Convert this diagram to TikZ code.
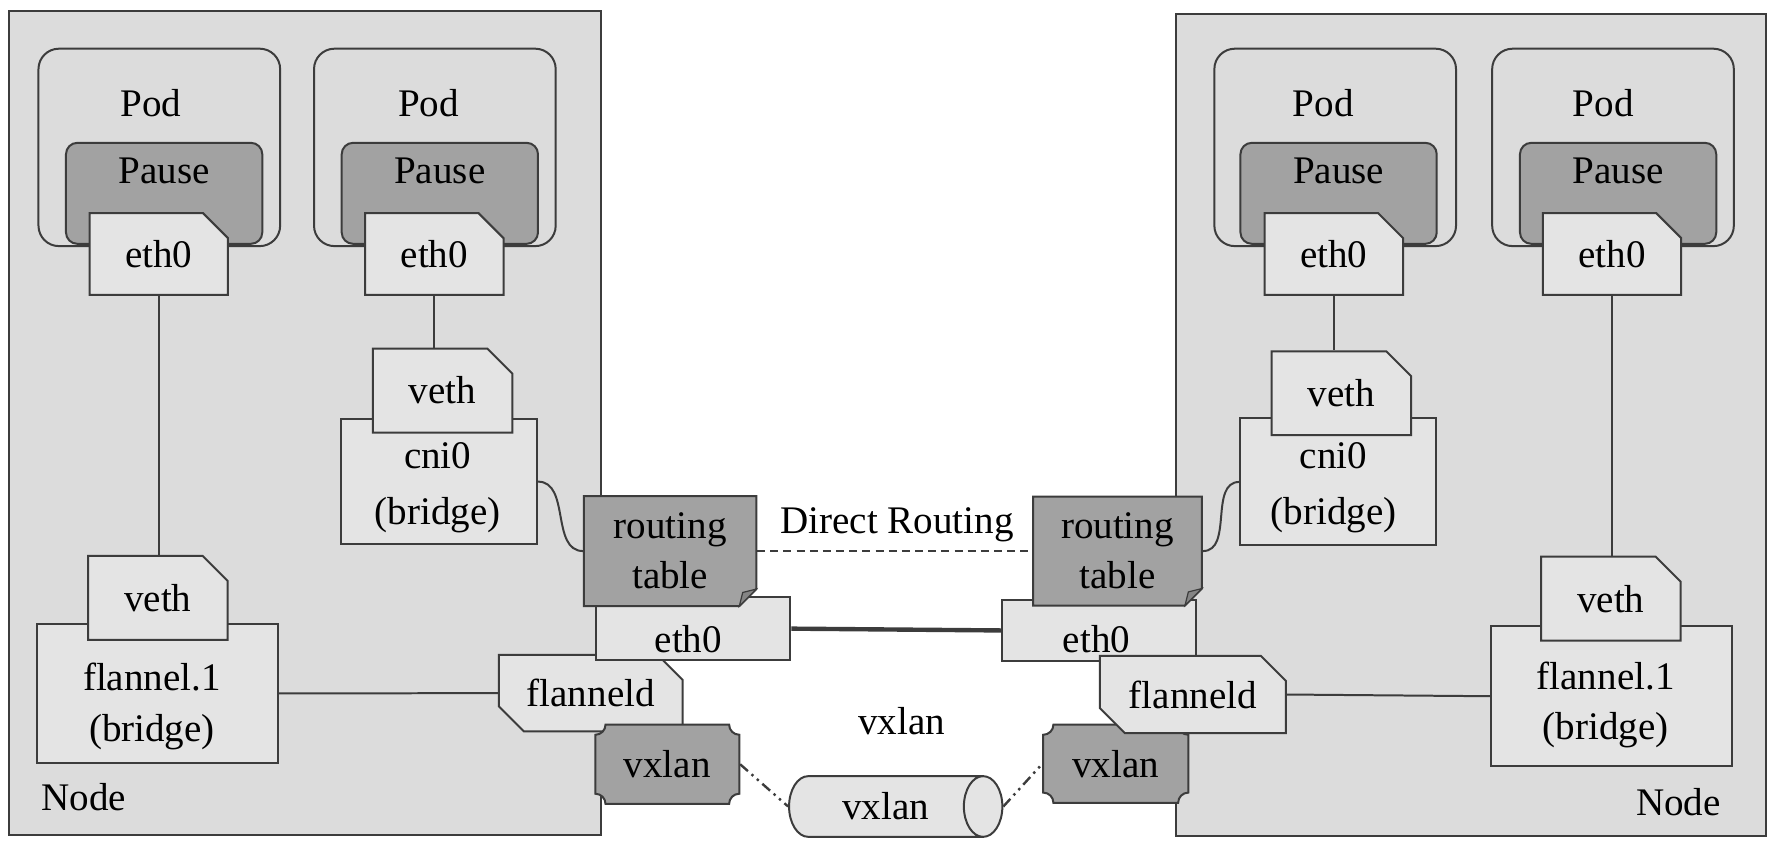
\documentclass[tikz,border=0pt]{standalone}
\usepackage{fontspec}
\setmainfont{Liberation Serif}
\usetikzlibrary{shapes.misc,shapes.geometric,positioning}

\definecolor{linec}{HTML}{3C3C3C}
\definecolor{nodefill}{HTML}{DCDCDC}
\definecolor{boxfill}{HTML}{E4E4E4}
\definecolor{darkfill}{HTML}{A2A2A2}
\definecolor{foldc}{HTML}{858585}

\tikzset{
	nodebg/.style={draw=linec, fill=nodefill, line width=0.5pt},
	podbox/.style={draw=linec, fill=nodefill, rounded corners=0.18cm, line width=0.5pt, minimum width=2.13cm, minimum height=1.74cm},
	pausebox/.style={draw=linec, fill=darkfill, rounded corners=0.1cm, line width=0.5pt, minimum width=1.73cm, minimum height=0.89cm},
	ifbox/.style={chamfered rectangle, chamfered rectangle corners=north east, chamfered rectangle sep=0.11cm, draw=linec, fill=boxfill, line width=0.5pt, inner sep=0pt},
	brbox/.style={rectangle, draw=linec, fill=boxfill, line width=0.5pt, inner sep=0pt},
	darkbox/.style={draw=linec, fill=darkfill, line width=0.5pt},
	fdbox/.style={chamfered rectangle, chamfered rectangle corners={north east, south west}, chamfered rectangle sep=0.11cm, draw=linec, fill=boxfill, line width=0.5pt, inner sep=0pt},
	tube/.style={cylinder, shape border rotate=0, aspect=1.4, draw=linec, fill=boxfill, line width=0.5pt, inner sep=0pt, minimum width=0.535cm, minimum height=1.88cm},
	wire/.style={draw=linec, line width=0.5pt},
	drline/.style={draw=linec, line width=0.7pt, dash pattern=on 2pt off 1.3pt},
	ethline/.style={draw=linec, line width=1.1pt},
	vxline/.style={draw=linec, line width=0.6pt, dash pattern=on 2.6pt off 1.2pt on 0.6pt off 1.2pt on 0.6pt off 1.2pt}
}

\begin{document}
\begin{tikzpicture}[x=0.01cm, y=-0.01cm, font=\fontsize{9.8}{12.6}\selectfont]
	\useasboundingbox (0,0) rectangle (1568,746);
	\fill[white] (0,0) rectangle (1568,746);
	
	% the two Node boxes
	\draw[nodebg] (8,10) rectangle (530,736);
	\node[anchor=west] (nodeAl) at (24,703) {Node};
	\draw[nodebg] (1037,12) rectangle (1557,737);
	\node[anchor=east] (nodeBl) at (1530,707) {Node};
	
	% pods, left node
	\node[podbox] (podA) at (140.5,130) {};
	\node[pausebox] (pauseA) at (144.75,170.5) {};
	\node (podAt) at (133,91) {Pod};
	\node (pauseAt) at (144.75,151) {Pause};
	\node[ifbox, minimum width=1.22cm, minimum height=0.72cm] (ethA) at (140,224) {eth0};
	
	\node[podbox] (podB) at (383.5,130) {};
	\node[pausebox] (pauseB) at (387.9,170.5) {};
	\node (podBt) at (378,91) {Pod};
	\node (pauseBt) at (387.9,151) {Pause};
	\node[ifbox, minimum width=1.22cm, minimum height=0.72cm] (ethB) at (383,224) {eth0};
	
	% pods, right node
	\node[podbox] (podC) at (1177.5,130) {};
	\node[pausebox] (pauseC) at (1180.5,170.5) {};
	\node (podCt) at (1167,91) {Pod};
	\node (pauseCt) at (1180.5,151) {Pause};
	\node[ifbox, minimum width=1.22cm, minimum height=0.72cm] (ethC) at (1176.3,224) {eth0};
	
	\node[podbox] (podD) at (1422.5,130) {};
	\node[pausebox] (pauseD) at (1427,170.5) {};
	\node (podDt) at (1414,91) {Pod};
	\node (pauseDt) at (1427,151) {Pause};
	\node[ifbox, minimum width=1.22cm, minimum height=0.72cm] (ethD) at (1421.6,224) {eth0};
	
	% bridges and veths
	\node[brbox, minimum width=1.73cm, minimum height=1.105cm] (cniL) at (387,424.75) {};
	\node[align=center] (cniLt) at (386,430) {cni0\\[1.4pt](bridge)};
	\node[ifbox, minimum width=1.23cm, minimum height=0.74cm] (vethB) at (390.3,344.5) {veth};
	
	\node[brbox, minimum width=1.72cm, minimum height=1.12cm] (cniR) at (1180,425) {};
	\node[align=center] (cniRt) at (1176,430) {cni0\\[1.4pt](bridge)};
	\node[ifbox, minimum width=1.23cm, minimum height=0.74cm] (vethC) at (1183,346.8) {veth};
	
	\node[brbox, minimum width=2.12cm, minimum height=1.23cm] (flL) at (139,611.5) {};
	\node[align=center] (flLt) at (134,623) {flannel.1\\(bridge)};
	\node[ifbox, minimum width=1.23cm, minimum height=0.74cm] (vethA) at (139.2,527.2) {veth};
	
	\node[brbox, minimum width=2.12cm, minimum height=1.23cm] (flR) at (1421,614) {};
	\node[align=center] (flRt) at (1416,622) {flannel.1\\(bridge)};
	\node[ifbox, minimum width=1.23cm, minimum height=0.74cm] (vethD) at (1420.6,528) {veth};
	
	\draw[wire] (ethA.south) -- (ethA.south |- vethA.north);
	\draw[wire] (ethB.south) -- (ethB.south |- vethB.north);
	\draw[wire] (ethC.south) -- (ethC.south |- vethC.north);
	\draw[wire] (ethD.south) -- (ethD.south |- vethD.north);
	
	% host side, left
	\node[fdbox, minimum width=1.62cm, minimum height=0.674cm] (fdL) at (521,611.3) {flanneld};
	\node[ifbox, minimum width=1.714cm, minimum height=0.553cm] (ethL) at (611.3,554.4) {};
	\node (ethLt) at (607,564) {eth0};
	\filldraw[darkbox] (515,437.5) -- (667,437.5) -- (667,519.5) -- (652,534.5) -- (515,534.5) -- cycle;
	\filldraw[draw=linec, fill=foldc, line width=0.3pt] (652,534.5) -- (667,519.5) -- (655,522.5) -- cycle;
	\node[minimum width=1.52cm, minimum height=0.97cm, inner sep=0pt, align=center] (rtL) at (591,486) {routing\\table};
	\filldraw[darkbox] (534,639) -- (643,639) .. controls (643,644) and (647,648) .. (652,648) -- (652,700)
		.. controls (647,700) and (643,704) .. (643,709) -- (534,709) .. controls (534,704) and (530,700) .. (525,700)
		-- (525,648) .. controls (530,648) and (534,644) .. (534,639) -- cycle;
	\node[minimum width=1.27cm, minimum height=0.70cm, inner sep=0pt] (vxL) at (588.5,674) {vxlan};
	
	% host side, right
	\node[ifbox, minimum width=1.71cm, minimum height=0.54cm] (ethR) at (969.5,556) {};
	\node (ethRt) at (967,564) {eth0};
	\filldraw[darkbox] (911,438) -- (1060,438) -- (1060,519) -- (1045,534) -- (911,534) -- cycle;
	\filldraw[draw=linec, fill=foldc, line width=0.3pt] (1045,534) -- (1060,519) -- (1048,522) -- cycle;
	\node[minimum width=1.49cm, minimum height=0.96cm, inner sep=0pt, align=center] (rtR) at (985.5,486) {routing\\table};
	\filldraw[darkbox] (929,639) -- (1039,639) .. controls (1039,644) and (1043,648) .. (1048,648) -- (1048,699)
		.. controls (1043,699) and (1039,703) .. (1039,708) -- (929,708) .. controls (929,703) and (925,699) .. (920,699)
		-- (920,648) .. controls (925,648) and (929,644) .. (929,639) -- cycle;
	\node[minimum width=1.28cm, minimum height=0.69cm, inner sep=0pt] (vxR) at (984,673.5) {vxlan};
	\node[fdbox, minimum width=1.64cm, minimum height=0.68cm] (fdR) at (1052,612.5) {flanneld};
	
	% links
	\draw[wire] (cniL.east) to[out=0, in=180] (rtL.west);
	\draw[wire] (rtR.east) to[out=0, in=180] (cniR.west);
	\draw[wire] (flL.east) -- (fdL.west);
	\draw[wire] (fdR.east) -- (flR.west);
	\draw[drline] (rtL.east) -- (rtR.west);
	\draw[ethline] (ethL.east) -- (ethR.west);
	
	\node[tube] (tunnel) at (781,711.25) {vxlan};
	\draw[vxline] (vxL.east) -- (tunnel.west);
	\draw[vxline] (tunnel.east) -- (vxR.west);
	
	\node (direct) at (791,463) {Direct Routing};
	\node (vxlbl) at (795,636) {vxlan};
\end{tikzpicture}
\end{document}
